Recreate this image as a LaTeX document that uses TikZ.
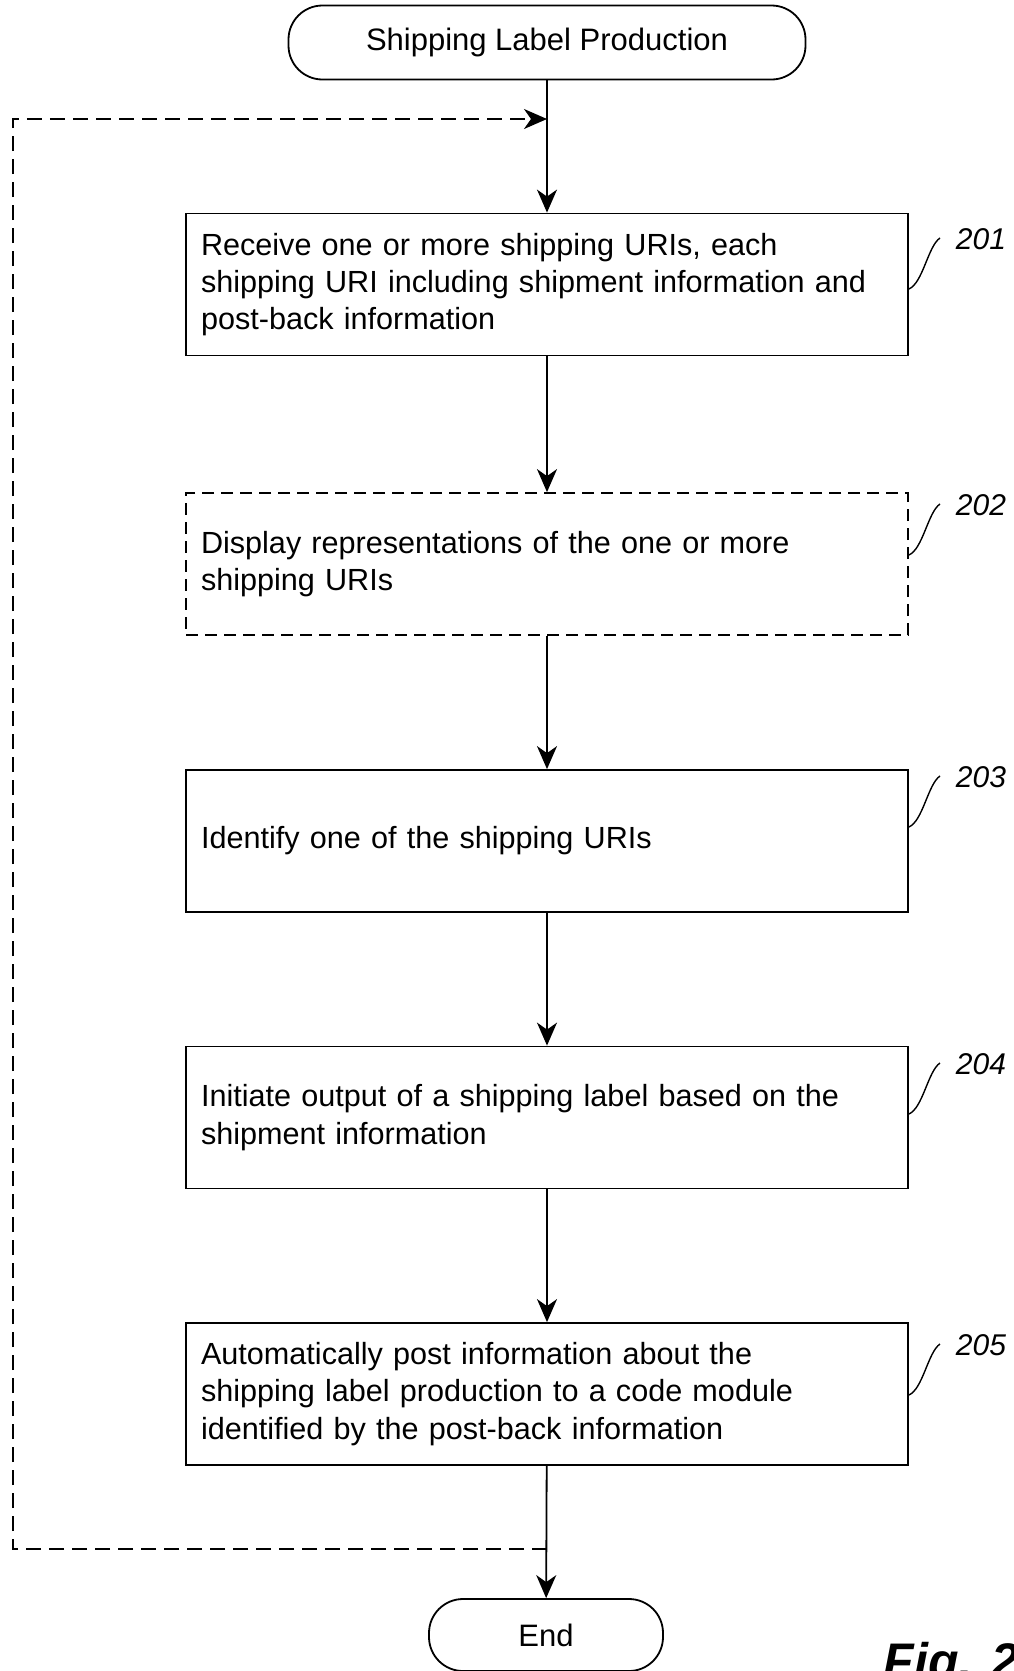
\documentclass[tikz,border=0pt]{standalone}
\usepackage{fontspec}
\setmainfont{Liberation Sans}
\usetikzlibrary{arrows.meta}

\begin{document}
\begin{tikzpicture}[x=1pt,y=-1pt,line width=1.8pt,
    stepbox/.style={draw,rectangle,minimum height=142pt,text width=692pt,
      inner xsep=15pt,align=left,font=\fontsize{30.6}{37.3}\selectfont},
    term/.style={draw,rounded corners=34pt,minimum height=74pt,
      font=\fontsize{31}{37.3}\selectfont},
    flow/.style={-{Stealth[length=23pt,width=20pt,inset=7pt]}},
    ref/.style={anchor=west,inner sep=0pt,font=\fontsize{30}{30}\itshape\selectfont},
    squig/.style={line width=1.4pt}]
    \useasboundingbox (0,0) rectangle (1014,1671);
    \node[term,minimum width=517pt] (start) at (547,42.5) {Shipping Label Production};
    \node[stepbox] (b201) at (547,284.5) {Receive one or more shipping URIs, each\\
      shipping URI including shipment information and\\ post-back information};
    \node[stepbox,dashed,dash pattern=on 12pt off 7pt] (b202) at (547,564)
      {Display representations of the one or more\\ shipping URIs};
    \node[stepbox] (b203) at (547,841) {Identify one of the shipping URIs};
    \node[stepbox] (b204) at (547,1117.5) {Initiate output of a shipping label based on the\\
      shipment information};
    \node[stepbox] (b205) at (547,1394) {Automatically post information about the\\
      shipping label production to a code module\\ identified by the post-back information};
    \node[term,minimum width=234pt,minimum height=72pt] (end) at (546,1635) {End};
    \node[anchor=base west,inner sep=0pt,
      font=\fontsize{50}{50}\bfseries\itshape\selectfont] (fig) at (883,1678) {Fig. 2};
    % main flow
    \coordinate (merge) at (547,119);
    \coordinate (back) at (547,1549);
    \draw (start) -- (merge);
    \draw[flow] (merge) -- (b201);
    \draw[flow] (b201) -- (b202);
    \draw[flow] (b202) -- (b203);
    \draw[flow] (b203) -- (b204);
    \draw[flow] (b204) -- (b205);
    \draw[flow] (b205) -- (end);
    % loop back
    \draw[flow,dash pattern=on 15pt off 8pt] (back) -- (13,1549) -- (13,119) -- (merge);
    % reference numbers
    \foreach \n/\y in {201/239,202/505,203/777,204/1064,205/1345}{
      \draw[squig] (b\n.east |- 0,\y+50) .. controls +(14,-6) and +(-12,8) .. (940,\y-1);
      \node[ref] (r\n) at (955,\y) {\n};
    }
  \end{tikzpicture}
\end{document}
